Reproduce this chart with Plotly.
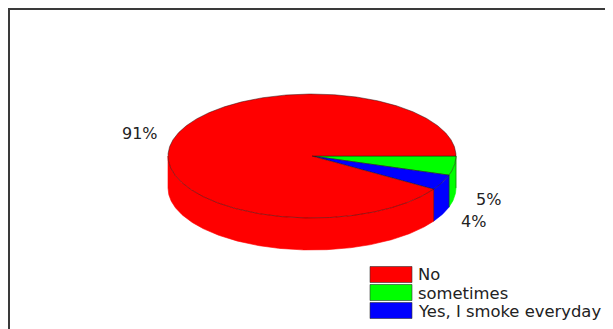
import numpy as np
import plotly.graph_objects as go

categories = ["No", "sometimes", "Yes, I smoke everyday"]
values = [91, 5, 4]
labels = ["91%", "5%", "4%"]
colors = ["#ff0000", "#00ff00", "#0000ff"]

W, H = 613, 329
PAGE_MARGIN = 8  # the browser's default body margin offsets the figure
CX, CY, RX, RY, DEPTH = 312, 156, 144, 62, 32
EDGE = "rgba(40,20,20,0.7)"
LEGEND_FONT = dict(family="DejaVu Sans, sans-serif", size=16.4, color="#222222")
LABEL_FONT = dict(family="DejaVu Sans, sans-serif", size=16, color="#222222")

# Slices run clockwise on screen: green, blue, then red, starting at 3 o'clock.
order = [1, 2, 0]
fig = go.Figure()


def arc(a0, a1):
    t = np.radians(np.linspace(a0, a1, max(2, int(abs(a1 - a0) * 2) + 1)))
    return CX + RX * np.cos(t), CY + RY * np.sin(t)


start = 0.0
spans = []
for i in order:
    end = start + values[i] / sum(values) * 360
    spans.append((i, start, end))
    start = end

# side walls: only the front half of the rim is visible
for i, a0, a1 in spans:
    b0, b1 = max(a0, 0), min(a1, 180)
    if b1 <= b0:
        continue
    x, y = arc(b0, b1)
    xs = np.concatenate([x, x[::-1], x[:1]])
    ys = np.concatenate([y, y[::-1] + DEPTH, y[:1]])
    fig.add_trace(go.Scatter(x=xs, y=ys, mode="lines", fill="toself", fillcolor=colors[i],
                             line=dict(color=colors[i], width=0.6), hoverinfo="skip", showlegend=False))
    fig.add_trace(go.Scatter(x=[x[0], x[0]], y=[y[0], y[0] + DEPTH], mode="lines",
                             line=dict(color=EDGE, width=0.6), hoverinfo="skip", showlegend=False))

# top face
for i, a0, a1 in spans:
    x, y = arc(a0, a1)
    xs = np.concatenate([[CX], x, [CX]])
    ys = np.concatenate([[CY], y, [CY]])
    fig.add_trace(go.Scatter(x=xs, y=ys, mode="lines", fill="toself", fillcolor=colors[i],
                             line=dict(color=EDGE, width=0.7), hoverinfo="skip", name=categories[i],
                             showlegend=False))

shapes = [dict(type="path", xref="x", yref="y",
               path=f"M 9 {H} L 9 9 L {W} 9",
               line=dict(color="#3a3a3a", width=2))]
swatch_y = [275, 293, 311]
text_y = [274, 293, 311.5]
for c, sy in zip(colors, swatch_y):
    shapes.append(dict(type="rect", xref="x", yref="y", x0=370, x1=412, y0=sy - 8.5, y1=sy + 7.5,
                       fillcolor=c, line=dict(color="#333333", width=0.6)))

ann = []
for t, ty in zip(categories, text_y):
    ann.append(dict(x=416, y=ty, text=t, xanchor="left", yanchor="middle", showarrow=False,
                    font=LEGEND_FONT))
label_pos = [(140, 133), (488, 199), (473, 221)]
for t, (px, py) in zip(labels, label_pos):
    ann.append(dict(x=px, y=py, text=t, xanchor="center", yanchor="middle", showarrow=False,
                    font=LABEL_FONT))

fig.update_layout(width=W - PAGE_MARGIN, height=H - PAGE_MARGIN, margin=dict(l=0, r=0, t=0, b=0),
                  paper_bgcolor="white", plot_bgcolor="white", showlegend=False,
                  shapes=shapes, annotations=ann,
                  xaxis=dict(range=[PAGE_MARGIN, W], visible=False, fixedrange=True),
                  yaxis=dict(range=[H, PAGE_MARGIN], visible=False, fixedrange=True))
fig.write_html("out.html", config=dict(displayModeBar=False))
